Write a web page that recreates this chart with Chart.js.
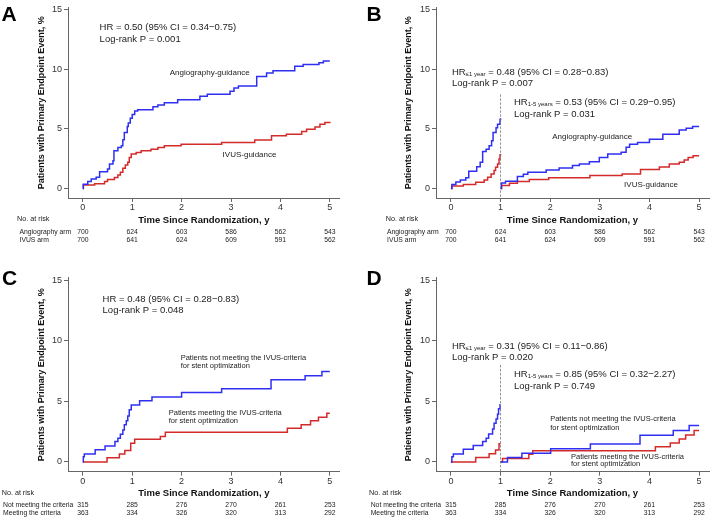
<!DOCTYPE html>
<html><head><meta charset="utf-8">
<script src="https://cdn.jsdelivr.net/npm/chart.js@4.4.0/dist/chart.umd.min.js"></script>
<style>
html,body{margin:0;padding:0;background:#fff;}
#wrap{position:relative;width:711px;height:519px;overflow:hidden;font-family:"Liberation Sans",Arial,Helvetica,sans-serif;}
canvas{position:absolute;}
.lbl{position:absolute;font-weight:bold;font-size:21px;color:#000;line-height:1;}
</style></head><body>
<div id="wrap">
<canvas id="cA" width="355" height="255" style="left:0;top:0;width:355px;height:255px"></canvas>
<canvas id="cB" width="356" height="255" style="left:355px;top:0;width:356px;height:255px"></canvas>
<canvas id="cC" width="355" height="264" style="left:0;top:255px;width:355px;height:264px"></canvas>
<canvas id="cD" width="356" height="264" style="left:355px;top:255px;width:356px;height:264px"></canvas>
<div class="lbl" style="left:1.5px;top:3px">A</div>
<div class="lbl" style="left:366.5px;top:3px">B</div>
<div class="lbl" style="left:2px;top:267px">C</div>
<div class="lbl" style="left:366.5px;top:267px">D</div>
</div>
<script>
const FONT = '"Liberation Sans", Arial, Helvetica, sans-serif';

// ---- axes / table labels ----
const xTicks = [0, 1, 2, 3, 4, 5];
const yTicks = [0, 5, 10, 15];
const riskTimes = [0, 1, 2, 3, 4, 5];
const landmarkTime = 1;

const riskLabelsAB = ['Angiography arm', 'IVUS arm'];
const riskAngio = [700, 624, 603, 586, 562, 543];
const riskIvus = [700, 641, 624, 609, 591, 562];
const riskLabelsCD = ['Not meeting the criteria', 'Meeting the criteria'];
const riskNotMeet = [315, 285, 276, 270, 261, 253];
const riskMeet = [363, 334, 326, 320, 313, 292];

// ---- Panel A: cumulative incidence (%) ----
const angioA_t = [0, 0.01, 0.1, 0.17, 0.27, 0.34, 0.5, 0.54, 0.61, 0.63, 0.71, 0.78, 0.81, 0.84, 0.9, 0.92, 0.96, 1.0, 1.05, 1.11, 1.42, 1.52, 1.65, 1.92, 2.37, 2.52, 2.98, 3.06, 3.15, 3.52, 3.72, 3.85, 4.29, 4.46, 4.78, 4.87, 5.0];
const angioA_v = [0, 0.36, 0.58, 0.8, 0.94, 1.4, 1.64, 2.06, 2.33, 3.17, 3.44, 3.58, 4.1, 4.7, 5.2, 5.5, 5.9, 6.2, 6.5, 6.6, 6.86, 7.0, 7.2, 7.45, 7.75, 7.9, 8.17, 8.44, 8.6, 9.4, 9.7, 9.88, 10.25, 10.4, 10.55, 10.7, 10.7];
const ivusA_t = [0, 0.01, 0.24, 0.44, 0.5, 0.64, 0.71, 0.76, 0.81, 0.86, 0.91, 0.94, 0.98, 1.08, 1.18, 1.38, 1.52, 1.65, 1.99, 2.81, 3.48, 3.82, 4.12, 4.43, 4.53, 4.7, 4.8, 4.9, 5.0];
const ivusA_v = [0, 0.3, 0.39, 0.58, 0.75, 0.92, 1.14, 1.36, 1.7, 1.97, 2.2, 2.6, 2.9, 3.03, 3.17, 3.3, 3.44, 3.58, 3.72, 3.86, 4.06, 4.42, 4.55, 4.78, 4.97, 5.17, 5.4, 5.53, 5.6];

// ---- Panel B: landmark analysis ----
const angioB1_t = [0, 0.02, 0.1, 0.19, 0.3, 0.36, 0.52, 0.59, 0.64, 0.71, 0.77, 0.82, 0.85, 0.91, 0.94, 0.99, 1.0];
const angioB1_v = [0, 0.33, 0.55, 0.72, 0.89, 1.44, 1.83, 2.2, 3.1, 3.3, 3.58, 4.0, 4.7, 5.1, 5.4, 5.8, 5.9];
const ivusB1_t = [0, 0.02, 0.25, 0.5, 0.67, 0.74, 0.81, 0.87, 0.9, 0.94, 0.97, 0.99, 1.0];
const ivusB1_v = [0, 0.2, 0.33, 0.53, 0.72, 0.94, 1.22, 1.5, 1.78, 2.06, 2.47, 2.83, 2.9];
const angioB2_t = [1.0, 1.02, 1.1, 1.34, 1.46, 1.55, 1.92, 2.18, 2.45, 2.59, 2.79, 2.99, 3.16, 3.43, 3.53, 3.6, 3.76, 4.0, 4.27, 4.6, 4.74, 4.87, 5.0];
const angioB2_v = [0, 0.45, 0.6, 1.0, 1.2, 1.36, 1.56, 1.72, 1.92, 2.06, 2.25, 2.6, 2.9, 3.05, 3.45, 3.72, 3.86, 4.14, 4.56, 4.9, 5.06, 5.2, 5.2];
const ivusB2_t = [1.0, 1.02, 1.18, 1.34, 1.58, 1.97, 2.8, 3.45, 3.82, 4.2, 4.4, 4.6, 4.7, 4.78, 4.88, 5.0];
const ivusB2_v = [0, 0.25, 0.44, 0.58, 0.75, 0.9, 1.08, 1.22, 1.6, 1.8, 2.05, 2.2, 2.4, 2.6, 2.75, 2.75];

// ---- Panel C: IVUS optimisation criteria ----
const notC_t = [0, 0.01, 0.03, 0.25, 0.45, 0.65, 0.71, 0.76, 0.81, 0.84, 0.88, 0.91, 0.94, 0.98, 1.15, 1.4, 2.0, 2.81, 3.81, 4.5, 4.84, 5.0];
const notC_v = [0, 0.44, 0.66, 1.0, 1.32, 1.68, 1.96, 2.29, 2.64, 3.06, 3.41, 3.8, 4.3, 4.7, 5.04, 5.35, 5.73, 6.03, 6.78, 7.1, 7.46, 7.46];
const meetC_t = [0, 0.49, 0.74, 0.85, 0.97, 1.05, 1.57, 1.67, 4.14, 4.42, 4.61, 4.77, 4.94, 5.0];
const meetC_v = [0, 0.36, 0.65, 0.95, 1.54, 1.87, 2.1, 2.45, 2.78, 3.06, 3.41, 3.69, 4.02, 4.02];

// ---- Panel D: landmark, IVUS optimisation criteria ----
const notD1_t = [0, 0.02, 0.05, 0.25, 0.45, 0.64, 0.71, 0.76, 0.84, 0.87, 0.91, 0.94, 0.96, 0.99, 1.0];
const notD1_v = [0, 0.44, 0.66, 1.05, 1.35, 1.68, 1.96, 2.31, 2.73, 3.2, 3.55, 3.94, 4.38, 4.71, 4.71];
const meetD1_t = [0, 0.5, 0.77, 0.9, 0.97, 1.0];
const meetD1_v = [0, 0.37, 0.68, 0.98, 1.5, 1.5];
const notD2_t = [1.0, 1.14, 1.43, 2.01, 2.81, 3.81, 4.48, 4.8, 5.0];
const notD2_v = [0, 0.37, 0.72, 1.1, 1.49, 2.2, 2.6, 3.0, 3.0];
const meetD2_t = [1.0, 1.04, 1.57, 1.65, 4.12, 4.42, 4.6, 4.73, 4.9, 5.0];
const meetD2_v = [0, 0.28, 0.63, 0.92, 1.25, 1.56, 1.9, 2.22, 2.6, 2.6];

const BLUE = '#2f2ff2';
const RED = '#d42a2a';
const AXIS = '#666';

function pts(t, v) {
  const n = Math.min(t.length, v.length), out = [];
  for (let i = 0; i < n; i++) out.push({x: t[i], y: v[i]});
  return out;
}
function curve(t, v, color) {
  return {data: pts(t, v), borderColor: color, borderWidth: 1.5, pointRadius: 0, stepped: 'before', fill: false};
}
function landmark(top) {
  return {data: [{x: landmarkTime, y: top}, {x: landmarkTime, y: -0.8}], borderColor: '#777', borderWidth: 0.8,
          borderDash: [2.5, 1.5], pointRadius: 0, fill: false};
}
function txt(t, v, s, size) { return {t, v, parts: [{s, size}]}; }
function hrSub(t, v, sub, rest) {
  return {t, v, parts: [{s: 'HR', size: 9.5}, {s: sub, size: 6, dy: 2.5}, {s: rest, size: 9.5}]};
}

function makePanel(id, p) {
  const plugin = {
    id: 'annot' + id,
    afterDraw(chart) {
      const ctx = chart.ctx, xs = chart.scales.x, ys = chart.scales.y;
      ctx.save();
      ctx.fillStyle = '#222';
      ctx.textBaseline = 'middle';
      ctx.textAlign = 'left';
      for (const a of p.texts) {
        let cx = xs.getPixelForValue(a.t);
        const cy = ys.getPixelForValue(a.v);
        for (const part of a.parts) {
          ctx.font = part.size + 'px ' + FONT;
          ctx.fillText(part.s, cx, cy + (part.dy || 0));
          cx += ctx.measureText(part.s).width;
        }
      }
      const r = p.risk;
      ctx.font = '7.2px ' + FONT;
      ctx.textAlign = 'left';
      ctx.fillText('No. at risk', r.headX, r.headY);
      ctx.font = '6.8px ' + FONT;
      r.labels.forEach((lab, i) => {
        const y = r.rowY[i];
        ctx.textAlign = 'left';
        ctx.fillText(lab, r.labelX, y);
        ctx.textAlign = 'center';
        r.values[i].forEach((n, j) => ctx.fillText(String(n), xs.getPixelForValue(riskTimes[j]), y));
      });
      ctx.restore();
    }
  };
  const tickFont = {size: 9, family: FONT};
  return new Chart(document.getElementById(id), {
    type: 'line',
    data: {datasets: p.datasets},
    options: {
      responsive: false, animation: false, devicePixelRatio: 1,
      layout: {padding: p.pad},
      plugins: {legend: {display: false}, tooltip: {enabled: false}},
      scales: {
        x: {
          type: 'linear', min: -0.3, max: 5.2,
          afterBuildTicks: s => { s.ticks = xTicks.map(v => ({value: v})); },
          afterFit: s => { s.height = p.xH; },
          ticks: {font: tickFont, color: '#333', padding: 0, maxRotation: 0, autoSkip: false, callback: v => String(v)},
          grid: {drawOnChartArea: false, drawTicks: true, tickLength: 4, color: AXIS, lineWidth: 1},
          border: {display: true, color: AXIS, width: 1},
          title: {display: true, text: 'Time Since Randomization, y', color: '#111',
                  font: {size: 9.5, weight: 'bold', family: FONT}, padding: {top: 0, bottom: 0}}
        },
        y: {
          type: 'linear', min: -0.8, max: 15.2,
          afterBuildTicks: s => { s.ticks = yTicks.map(v => ({value: v})); },
          afterFit: s => { s.width = p.yW; },
          ticks: {font: tickFont, color: '#333', padding: 2, callback: v => String(v)},
          grid: {drawOnChartArea: false, drawTicks: true, tickLength: 4, color: AXIS, lineWidth: 1},
          border: {display: true, color: AXIS, width: 1},
          title: {display: true, text: 'Patients with Primary Endpoint Event, %', color: '#111',
                  font: {size: 9, weight: 'bold', family: FONT}, padding: {top: 0, bottom: 0}}
        }
      }
    },
    plugins: [plugin]
  });
}

makePanel('cA', {
  pad: {left: 36, top: 6, right: 15.3, bottom: 29}, yW: 32, xH: 28,
  datasets: [curve(angioA_t, angioA_v, BLUE), curve(ivusA_t, ivusA_v, RED)],
  texts: [
    txt(0.34, 13.5, 'HR = 0.50 (95% CI = 0.34−0.75)', 9.5),
    txt(0.34, 12.53, 'Log-rank P = 0.001', 9.5),
    txt(1.76, 9.67, 'Angiography-guidance', 8),
    txt(2.83, 2.83, 'IVUS-guidance', 8)
  ],
  risk: {headX: 17, headY: 219, labelX: 19.5, rowY: [232, 240], labels: riskLabelsAB, values: [riskAngio, riskIvus]}
});

makePanel('cB', {
  pad: {left: 48, top: 6, right: 2, bottom: 29}, yW: 33, xH: 28,
  datasets: [landmark(7.9), curve(angioB1_t, angioB1_v, BLUE), curve(ivusB1_t, ivusB1_v, RED),
             curve(angioB2_t, angioB2_v, BLUE), curve(ivusB2_t, ivusB2_v, RED)],
  texts: [
    hrSub(0.02, 9.75, '≤1 year', ' = 0.48 (95% CI = 0.28−0.83)'),
    txt(0.02, 8.83, 'Log-rank P = 0.007', 9.5),
    hrSub(1.27, 7.25, '1-5 years', ' = 0.53 (95% CI = 0.29−0.95)'),
    txt(1.27, 6.25, 'Log-rank P = 0.031', 9.5),
    txt(2.04, 4.33, 'Angiography-guidance', 8),
    txt(3.49, 0.33, 'IVUS-guidance', 8)
  ],
  risk: {headX: 30.7, headY: 219, labelX: 32, rowY: [232, 240], labels: riskLabelsAB, values: [riskAngio, riskIvus]}
});

makePanel('cC', {
  pad: {left: 36, top: 22.6, right: 15.3, bottom: 20.3}, yW: 32, xH: 27,
  datasets: [curve(notC_t, notC_v, BLUE), curve(meetC_t, meetC_v, RED)],
  texts: [
    txt(0.40, 13.44, 'HR = 0.48 (95% CI = 0.28−0.83)', 9.5),
    txt(0.40, 12.53, 'Log-rank P = 0.048', 9.5),
    txt(1.98, 8.57, 'Patients not meeting the IVUS-criteria', 7.5),
    txt(1.98, 7.91, 'for stent optimization', 7.5),
    txt(1.74, 4.04, 'Patients meeting the IVUS-criteria', 7.5),
    txt(1.74, 3.38, 'for stent optimization', 7.5)
  ],
  risk: {headX: 1.7, headY: 238, labelX: 3, rowY: [250, 258], labels: riskLabelsCD, values: [riskNotMeet, riskMeet]}
});

makePanel('cD', {
  pad: {left: 48, top: 22.6, right: 2, bottom: 20.3}, yW: 33, xH: 27,
  datasets: [landmark(8.0), curve(notD1_t, notD1_v, BLUE), curve(meetD1_t, meetD1_v, RED),
             curve(notD2_t, notD2_v, BLUE), curve(meetD2_t, meetD2_v, RED)],
  texts: [
    hrSub(0.02, 9.56, '≤1 year', ' = 0.31 (95% CI = 0.11−0.86)'),
    txt(0.02, 8.66, 'Log-rank P = 0.020', 9.5),
    hrSub(1.27, 7.25, '1-5 years', ' = 0.85 (95% CI = 0.32−2.27)'),
    txt(1.27, 6.27, 'Log-rank P = 0.749', 9.5),
    txt(2.0, 3.54, 'Patients not meeting the IVUS-criteria', 7.5),
    txt(2.0, 2.8, 'for stent optimization', 7.5),
    txt(2.42, 0.41, 'Patients meeting the IVUS-criteria', 7.5),
    txt(2.42, -0.16, 'for stent optimization', 7.5)
  ],
  risk: {headX: 14, headY: 238, labelX: 15.7, rowY: [250, 258], labels: riskLabelsCD, values: [riskNotMeet, riskMeet]}
});
</script>
</body></html>
